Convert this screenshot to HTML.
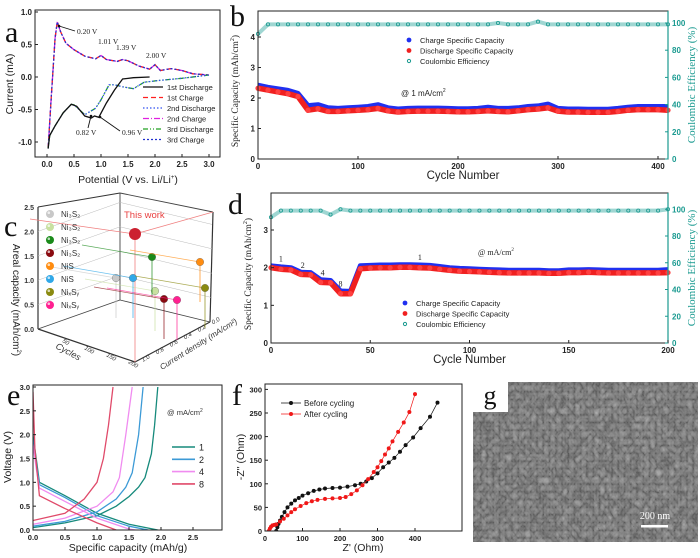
<!DOCTYPE html>
<html><head><meta charset="utf-8"><style>
html,body{margin:0;padding:0;background:#fff;width:700px;height:558px;overflow:hidden}
svg{display:block;font-family:"Liberation Sans",sans-serif}
.ser{font-family:"Liberation Serif",serif}
</style></head><body>
<svg id="fig" width="700" height="558" viewBox="0 0 700 558" xmlns="http://www.w3.org/2000/svg">
<defs>
<filter id="sem" x="0" y="0" width="100%" height="100%">
<feTurbulence type="turbulence" baseFrequency="0.16 0.13" numOctaves="2" seed="4"/>
<feColorMatrix type="matrix" values="0.4 0.4 0.4 0 0.1  0.4 0.4 0.4 0 0.1  0.4 0.4 0.4 0 0.1  0 0 0 0 1"/>
</filter>
</defs>
</svg>
<script>
// ---------- Panel a data ----------
const aChargeV=[0.02,0.08,0.15,0.19,0.25,0.35,0.5,0.7,0.9,1.0,1.1,1.3,1.4,1.5,1.7,1.9,2.0,2.1,2.3,2.5,2.7,3.0];
const aChargeI=[-1.1,-0.3,0.6,0.85,0.7,0.52,0.42,0.32,0.28,0.33,0.27,0.24,0.27,0.25,0.17,0.12,0.19,0.1,0.13,0.1,0.05,0.03];
const aDis1V=[1.9,1.6,1.4,1.25,1.1,0.96,0.88,0.82,0.7,0.55,0.45,0.3,0.15,0.05,0.02];
const aDis1I=[0.0,-0.01,-0.03,-0.2,-0.4,-0.62,-0.6,-0.63,-0.6,-0.45,-0.42,-0.55,-0.75,-0.9,-1.1];
const aDis3V=[3.0,2.5,2.1,1.8,1.6,1.4,1.25,1.15,1.0,0.9,0.7,0.5,0.45,0.3,0.15,0.05,0.02];
const aDis3I=[0.03,-0.02,-0.05,-0.08,-0.18,-0.15,-0.12,-0.12,-0.35,-0.48,-0.58,-0.43,-0.42,-0.55,-0.75,-0.9,-1.1];
const aTicksX=[0.0,0.5,1.0,1.5,2.0,2.5,3.0];
const aTicksY=[-1.0,-0.5,0.0,0.5,1.0];
// ---------- Panel b data (every 10 cycles, 0..410) ----------
const bCycles=[0,10,20,30,40,50,60,70,80,90,100,110,120,130,140,150,160,170,180,190,200,210,220,230,240,250,260,270,280,290,300,310,320,330,340,350,360,370,380,390,400,410];
const bCharge=[2.42,2.35,2.3,2.25,2.15,1.75,1.78,1.68,1.66,1.68,1.7,1.72,1.78,1.68,1.64,1.66,1.67,1.67,1.67,1.66,1.65,1.65,1.66,1.7,1.66,1.66,1.68,1.72,1.74,1.8,1.66,1.64,1.64,1.63,1.63,1.63,1.66,1.7,1.72,1.72,1.72,1.72];
const bDischarge=[2.32,2.26,2.2,2.14,2.05,1.6,1.65,1.56,1.56,1.58,1.6,1.62,1.66,1.58,1.54,1.56,1.57,1.57,1.57,1.56,1.55,1.55,1.56,1.58,1.56,1.55,1.58,1.62,1.64,1.68,1.57,1.54,1.54,1.53,1.53,1.53,1.56,1.6,1.62,1.62,1.62,1.6];
const bCE=[92,99,99,99,99,99,99,99,99,99,99,99,99,99,99,99,99,99,99,99,99,99,99,99,100,99,99,99,101,99,99,99,99,99,99,99,99,99,99,99,99,99];
const bTicksX=[0,100,200,300,400];
const bTicksY=[0,1,2,3,4];
const bTicksY2=[0,20,40,60,80,100];
// ---------- Panel d data (every 5 cycles, 0..200) ----------
const dCycles=[0,5,10,15,20,25,30,35,40,45,50,55,60,65,70,75,80,85,90,95,100,105,110,115,120,125,130,135,140,145,150,155,160,165,170,175,180,185,190,195,200];
const dCharge=[2.05,2.02,2.0,1.88,1.87,1.68,1.66,1.38,1.37,2.05,2.06,2.07,2.07,2.08,2.08,2.07,2.06,2.03,2.0,1.98,1.97,1.96,1.95,1.94,1.93,1.93,1.93,1.93,1.92,1.92,1.94,1.94,1.95,1.94,1.93,1.93,1.93,1.93,1.93,1.93,1.95];
const dDischarge=[2.0,1.96,1.94,1.82,1.81,1.61,1.6,1.31,1.31,1.97,1.99,2.0,2.0,2.01,2.01,2.0,1.99,1.96,1.93,1.91,1.9,1.89,1.88,1.87,1.86,1.86,1.86,1.86,1.85,1.85,1.87,1.87,1.88,1.87,1.86,1.86,1.86,1.86,1.86,1.86,1.87];
const dCE=[94,99,99,99,99,99,96,100,99,99,99,99,99,99,99,99,99,99,99,99,99,99,99,99,99,99,99,99,99,99,99,99,99,99,99,99,99,99,99,99,100];
const dTicksX=[0,50,100,150,200];
const dTicksY=[0,1,2,3];
const dTicksY2=[0,20,40,60,80,100];
const dRateLabels=["1","2","4","8","1"];
const dRateCycle=[5,16,26,35,75];
const dRateCap=[2.17,1.99,1.79,1.5,2.2];
// ---------- Panel e data ----------
const eRates=["1","2","4","8"];
const eColors=["#168a7c","#3c9ad6","#f08cf0","#e04a6a"];
const eChgQ=[[0,0.5,1.0,1.3,1.5,1.65,1.75,1.85,1.9,1.95],[0,0.5,1.0,1.3,1.45,1.55,1.65,1.72],[0,0.5,1.0,1.25,1.35,1.45,1.55],[0,0.5,0.8,1.0,1.1,1.18,1.25]];
const eChgV=[[0.05,0.15,0.3,0.5,0.7,0.9,1.1,1.6,2.2,3.0],[0.08,0.18,0.38,0.65,0.9,1.2,2.0,3.0],[0.12,0.25,0.5,0.8,1.1,2.0,3.0],[0.2,0.35,0.65,1.0,1.5,2.2,3.0]];
const eDisQ=[[0,0.05,0.1,0.5,1.0,1.5,1.95],[0,0.05,0.1,0.5,1.0,1.5,1.8],[0,0.05,0.1,0.5,1.0,1.5,1.6],[0,0.03,0.1,0.5,1.0,1.3]];
const eDisV=[[2.0,1.5,1.0,0.72,0.35,0.12,0.0],[1.9,1.4,0.95,0.68,0.3,0.08,0.0],[1.8,1.3,0.88,0.6,0.25,0.02,0.0],[2.9,1.7,0.72,0.45,0.15,0.0]];
const eTicksX=[0.0,0.5,1.0,1.5,2.0,2.5];
const eTicksY=[0.0,0.5,1.0,1.5,2.0,2.5,3.0];
// ---------- Panel f data ----------
const fBeforeX=[30,33,36,40,45,52,60,70,80,90,100,115,130,145,160,180,200,220,240,255,270,285,300,315,330,345,360,375,395,415,440,460];
const fBeforeY=[0,8,15,22,30,40,50,58,65,70,75,80,85,88,90,91,92,94,97,100,105,112,122,135,145,155,168,182,198,218,242,272];
const fAfterX=[10,13,16,20,25,30,40,50,60,70,80,95,110,125,140,160,180,200,215,230,245,260,275,290,300,310,320,330,340,355,370,385,400];
const fAfterY=[0,5,9,12,13,14,20,26,33,40,46,53,59,63,66,68,69,70,72,78,86,97,110,125,135,148,162,175,190,210,230,252,290];
const fTicksX=[0,100,200,300,400];
const fTicksY=[0,50,100,150,200,250,300];
// ---------- Panel c data ----------
const cLabels=["Ni\u2083S\u2082","Ni\u2083S\u2082","Ni\u2083S\u2082","Ni\u2083S\u2082","NiS","NiS","Ni\u2093S\u1d67","Ni\u2093S\u1d67"];
const cColors=["#c8c8c8","#c8e0a0","#1a8a1a","#8a0a10","#ff8c10","#30a8e8","#8a8a10","#ff2090"];
const cPX=[116,155,152,164,200,133,205,177];
const cPY=[278,291,257,299,262,278,288,300];

const NS="http://www.w3.org/2000/svg";
const svg=document.getElementById('fig');
function mk(tag,attrs,parent){const e=document.createElementNS(NS,tag);for(const k in attrs)e.setAttribute(k,attrs[k]);(parent||svg).appendChild(e);return e;}
function txt(x,y,s,attrs,parent){const t=mk('text',Object.assign({x:x,y:y},attrs||{}),parent);t.textContent=s;return t;}
function lin(d0,d1,r0,r1){return v=>r0+(v-d0)*(r1-r0)/(d1-d0);}
function pts(xs,ys,sx,sy){return xs.map((v,i)=>sx(v).toFixed(1)+','+sy(ys[i]).toFixed(1)).join(' ');}
function group(name){const g=mk('g',{});return g;}
function frame(g,x0,y0,x1,y1,col){const r=mk('rect',{x:x0,y:y0,width:x1-x0,height:y1-y0,fill:'none',stroke:col||'#222','stroke-width':1},g);return r;}
function xticks(g,ticks,sx,yb,fmt,fs){const gg=mk('g',{},g);ticks.forEach(t=>{mk('line',{x1:sx(t),x2:sx(t),y1:yb,y2:yb-3,stroke:'#222'},gg);const l=txt(sx(t),yb+10,fmt(t),{'font-size':fs||8,'font-weight':'bold','text-anchor':'middle',fill:'#222'},gg);});}
function yticks(g,ticks,sy,xl,fmt,fs,right,col){const gg=mk('g',{},g);ticks.forEach(t=>{mk('line',{x1:xl,x2:right?xl-3:xl+3,y1:sy(t),y2:sy(t),stroke:col||'#222'},gg);const l=txt(right?xl+4:xl-3,sy(t)+3,fmt(t),{'font-size':fs||8,'font-weight':'bold','text-anchor':right?'start':'end',fill:col||'#222'},gg);});}
function letter(x,y,s){const t=txt(x,y,s,{'font-size':30,'class':'ser',fill:'#111'});}

// ================= Panel a =================
(function(){
const g=group('panel-a-cv');
const sx=lin(0,3,47,209), sy=lin(-1,1,142,12);
frame(g,35,10,220,157);
xticks(g,aTicksX,sx,157,v=>v.toFixed(1));
yticks(g,aTicksY,sy,35,v=>v.toFixed(1));
let t=txt(128,183,'Potential (V vs. Li/Li',{'font-size':10.5,'text-anchor':'middle',fill:'#222'},g);
const sup=mk('tspan',{'font-size':6,dy:-4},t);sup.textContent='+';const cl=mk('tspan',{dy:4},t);cl.textContent=')';

t=txt(0,0,'Current (mA)',{'font-size':10.5,'text-anchor':'middle',fill:'#222',transform:'translate(13,84) rotate(-90)'},g);

const series=[
 {n:'2nd-charge-line',x:aChargeV,y:aChargeI,c:'#e020e0',d:'6,2,1,2',w:1.3},
 {n:'1st-charge-line',x:aChargeV,y:aChargeI,c:'#ff2020',d:'5,3',w:1.3},
 {n:'3rd-charge-line',x:aChargeV,y:aChargeI,c:'#2030d0',d:'2,2',w:1.3},
 {n:'3rd-discharge-line',x:aDis3V,y:aDis3I,c:'#20a020',d:'5,2,1,2,1,2',w:1.3},
 {n:'2nd-discharge-line',x:aDis3V,y:aDis3I,c:'#3050f0',d:'1.5,2',w:1.2},
 {n:'1st-discharge-line',x:aDis1V,y:aDis1I,c:'#111',d:'',w:1.3}];
series.forEach(s=>{const p=mk('polyline',{points:pts(s.x,s.y,sx,sy),fill:'none',stroke:s.c,'stroke-width':s.w,'stroke-dasharray':s.d},g);});
const ann=[['0.20 V',77,34],['1.01 V',98,44],['1.39 V',116,50],['2.00 V',146,58],['0.82 V',76,135],['0.96 V',122,135]];
ann.forEach(a=>{const l=txt(a[1],a[2],a[0],{'font-size':7.5,'class':'ser',fill:'#222'},g);});
[[75,31,59,26],[88,128,91,116],[120,131,100,117]].forEach(a=>{const l=mk('line',{x1:a[0],y1:a[1],x2:a[2],y2:a[3],stroke:'#111','stroke-width':0.9},g);mk('circle',{cx:a[2],cy:a[3],r:1.3,fill:'#111'},g);});
const leg=[['1st Discharge','#111',''],['1st Charge','#ff2020','5,3'],['2nd Discharge','#3050f0','1.5,2'],['2nd Charge','#e020e0','6,2,1,2'],['3rd Discharge','#20a020','5,2,1,2,1,2'],['3rd Charge','#2030d0','2,2']];
const lg=mk('g',{},g);
leg.forEach((l,i)=>{const y=90+i*10.5;mk('line',{x1:143,x2:163,y1:y-3,y2:y-3,stroke:l[1],'stroke-width':1.3,'stroke-dasharray':l[2]},lg);const e=txt(167,y,l[0],{'font-size':7.5,fill:'#222'},lg);});
})();
letter(5,42,'a');

// ================= Panel b / d helpers =================
function cyclePanel(name,x0,y0,x1,y1,sx,sy,sy2,cyc,chg,dis,ce,tx,ty,ty2,legY,xlab){
 const g=group(name);
 const ceL=mk('polyline',{points:pts(cyc,ce,sx,sy2),fill:'none',stroke:'#9fd6d2','stroke-width':4},g);
 
 cyc.forEach((c,i)=>{const m=mk('circle',{cx:sx(c),cy:sy2(ce[i]),r:1.6,fill:'none',stroke:'#1a9a90','stroke-width':0.8},g);});
 const cL=mk('polyline',{points:pts(cyc,chg,sx,sy),fill:'none',stroke:'#2030f0','stroke-width':5,'stroke-linejoin':'round'},g);
 
 const dL=mk('polyline',{points:pts(cyc,dis,sx,sy),fill:'none',stroke:'#f02020','stroke-width':5.5,'stroke-linejoin':'round'},g);
 
 cyc.forEach((c,i)=>{const m=mk('circle',{cx:sx(c),cy:sy(dis[i]),r:2.6,fill:'#ff4040'},g);});
 frame(g,x0,y0,x1,y1);
 mk('line',{x1:x1,x2:x1,y1:y0,y2:y1,stroke:'#1a9a90','stroke-width':1.2},g);
 xticks(g,tx,sx,y1,v=>String(v));
 yticks(g,ty,sy,x0,v=>String(v));
 yticks(g,ty2,sy2,x1,v=>String(v),8,true,'#1a9a90');
 let t=txt((x0+x1)/2,y1+20,xlab,{'font-size':11.5,'text-anchor':'middle',fill:'#222'},g);
 
 t=txt(0,0,'Specific Capacity (mAh/cm',{'font-size':9.5,'class':'ser','text-anchor':'middle',fill:'#222',transform:'translate('+(x0-20)+','+((y0+y1)/2+6)+') rotate(-90)'},g);
 const s2=mk('tspan',{'font-size':6,dy:-4},t);s2.textContent='2';const s3=mk('tspan',{dy:4},t);s3.textContent=')';
 
 t=txt(0,0,'Coulombic Efficiency (%)',{'font-size':11,'class':'ser','text-anchor':'middle',fill:'#1a9a90',transform:'translate('+(x1+27)+','+((y0+y1)/2)+') rotate(-90)'},g);
 
 const lg=mk('g',{},g);
 const lx=legY[0];
 [['Charge Specific Capacity','#2030f0'],['Discharge Specific Capacity','#f02020'],['Coulombic Efficiency','#1a9a90']].forEach((l,i)=>{const y=legY[1]+i*10.5;
  if(i<2)mk('circle',{cx:lx,cy:y-3,r:2.4,fill:l[1]},lg);else mk('circle',{cx:lx,cy:y-3,r:1.6,fill:'none',stroke:l[1]},lg);
  const e=txt(lx+11,y,l[0],{'font-size':7.5,fill:'#222'},lg);});
 return g;
}
// ================= Panel b =================
(function(){
 const sx=lin(0,400,258,658),sy=lin(0,4,159,37),sy2=lin(0,100,159,23);
 const g=cyclePanel('panel-b-cycling',258,11,668,159,sx,sy,sy2,bCycles,bCharge,bDischarge,bCE,bTicksX,bTicksY,bTicksY2,[409,43],'Cycle Number');
 const t=txt(401,96,'@ 1 mA/cm',{'font-size':8,fill:'#222'},g);const s=mk('tspan',{'font-size':5,dy:-4},t);s.textContent='2';
 
})();
letter(230,26,'b');
// ================= Panel d =================
(function(){
 const sx=lin(0,200,271,668),sy=lin(0,3,343,230),sy2=lin(0,80,343,236);
 const g=cyclePanel('panel-d-rate',271,193,668,343,sx,sy,sy2,dCycles,dCharge,dDischarge,dCE,dTicksX,dTicksY,dTicksY2,[405,306],'Cycle Number');
 const t=txt(478,255,'@ mA/cm',{'font-size':8,'class':'ser',fill:'#222'},g);const s=mk('tspan',{'font-size':5,dy:-4},t);s.textContent='2';
 
 dRateLabels.forEach((l,i)=>{const e=txt(sx(dRateCycle[i]),sy(dRateCap[i]),l,{'font-size':8,'class':'ser','text-anchor':'middle',fill:'#222'},g);});
})();
letter(228,214,'d');

// ================= Panel c (3D scatter) =================
(function(){
 const g=group('panel-c-3d-comparison');
 const gr='#bbb';
 [[38,207,38,329],[38,329,135,362],[135,362,210,322],[210,322,213,212],[38,207,120,193],[120,193,213,212],[120,193,120,300],[120,300,38,329],[120,300,210,322]].forEach((l,i)=>{const e=mk('line',{x1:l[0],y1:l[1],x2:l[2],y2:l[3],stroke:i<5?'#333':'#444','stroke-width':i<4?1.2:0.9},g);});
 for(let k=1;k<5;k++){const y=329-k*24.4;mk('line',{x1:38,y1:y,x2:120,y2:y-29,stroke:gr,'stroke-width':0.5},g);mk('line',{x1:120,y1:y-29,x2:212,y2:y-7,stroke:gr,'stroke-width':0.5},g);}
 ['0.0','0.5','1.0','1.5','2.0','2.5'].forEach((s,k)=>{const e=txt(34,332-k*24.4,s,{'font-size':7,'font-weight':'bold','text-anchor':'end',fill:'#333'},g);});
 let t=txt(0,0,'Areal capacity (mAh/cm',{'font-size':10,'text-anchor':'middle',fill:'#222',transform:'translate(13,300) rotate(90)'},g);
 const s=mk('tspan',{'font-size':6,dy:-4},t);s.textContent='2';const s2=mk('tspan',{dy:4},t);s2.textContent=')';
 
 ['50','100','150','200'].forEach((v,k)=>{const e=txt(62+k*22,342+k*7,v,{'font-size':6,'font-style':'italic',fill:'#333',transform:'rotate(30 '+(62+k*22)+' '+(342+k*7)+')'},g);});
 t=txt(0,0,'Cycles',{'font-size':9,'font-style':'italic',fill:'#333',transform:'translate(55,348) rotate(28)'},g);
 ['1.0','0.8','0.6','0.4','0.2','0.0'].forEach((v,k)=>{const e=txt(143+k*14,362-k*7.5,v,{'font-size':6,'font-style':'italic',fill:'#333',transform:'rotate(-30 '+(143+k*14)+' '+(362-k*7.5)+')'},g);});
 t=txt(0,0,'Current density (mA/cm\u00b2)',{'font-size':8,'font-style':'italic',fill:'#333',transform:'translate(162,370) rotate(-32)'},g);
 mk('line',{x1:135,y1:234,x2:135,y2:362,stroke:'#f08080','stroke-width':0.8},g);
 mk('line',{x1:30,y1:219,x2:135,y2:234,stroke:'#f08080','stroke-width':0.8},g);
 mk('line',{x1:135,y1:234,x2:213,y2:212,stroke:'#f08080','stroke-width':0.8},g);
 const tw=txt(124,218,'This work',{'font-size':9.5,fill:'#e84040'},g);
 const sp=mk('circle',{cx:135,cy:234,r:6,fill:'#cc2030'},g);
 cPX.forEach((x,i)=>{mk('line',{x1:x,y1:cPY[i],x2:x,y2:cPY[i]+40,stroke:cColors[i],'stroke-width':0.7},g);mk('line',{x1:x,y1:cPY[i],x2:x-70,y2:cPY[i]-12,stroke:cColors[i],'stroke-width':0.7,opacity:0.7},g);
  const p=mk('circle',{cx:x,cy:cPY[i],r:3.8,fill:cColors[i],stroke:'#555','stroke-width':0.3},g);});
 const lg=mk('g',{},g);
 cLabels.forEach((l,i)=>{const y=214+i*13;mk('circle',{cx:50,cy:y,r:4,fill:cColors[i]},lg);mk('circle',{cx:48.8,cy:y-1.3,r:1.3,fill:'#fff',opacity:0.7},lg);const e=txt(61,y+3,l,{'font-size':8,fill:'#333'},lg);});
})();
letter(4,236,'c');

// ================= Panel e =================
(function(){
 const g=group('panel-e-voltage-profiles');
 const sx=lin(0,2.5,33,193),sy=lin(0,3,530,387);
 const cp=mk('clipPath',{id:'clipE'},g);mk('rect',{x:33,y:385,width:189,height:145},cp);
 const cg=mk('g',{'clip-path':'url(#clipE)'},g);
 eRates.forEach((r,i)=>{let p=mk('polyline',{points:pts(eChgQ[i],eChgV[i],sx,sy),fill:'none',stroke:eColors[i],'stroke-width':1.3},cg);
  p=mk('polyline',{points:pts(eDisQ[i],eDisV[i],sx,sy),fill:'none',stroke:eColors[i],'stroke-width':1.3},cg);});
 frame(g,33,385,222,530);
 xticks(g,eTicksX,sx,530,v=>v.toFixed(1),7.5);
 yticks(g,eTicksY,sy,33,v=>v.toFixed(1),7.5);
 let t=txt(128,551,'Specific capacity (mAh/g)',{'font-size':10.5,'text-anchor':'middle',fill:'#222'},g);
 t=txt(0,0,'Voltage (V)',{'font-size':10.5,'text-anchor':'middle',fill:'#222',transform:'translate(11,457) rotate(-90)'},g);
 t=txt(167,415,'@ mA/cm',{'font-size':7.5,fill:'#333'},g);const s=mk('tspan',{'font-size':5,dy:-3},t);s.textContent='2';
 const lg=mk('g',{},g);
 eRates.forEach((r,i)=>{const y=447+i*12.3;mk('line',{x1:172,x2:195,y1:y,y2:y,stroke:eColors[i],'stroke-width':1.6},lg);const e=txt(199,y+3.5,r,{'font-size':9,fill:'#222'},lg);});
})();
letter(7,405,'e');

// ================= Panel f =================
(function(){
 const g=group('panel-f-nyquist');
 const sx=lin(0,400,265,415),sy=lin(0,250,531,413);
 const cp=mk('clipPath',{id:'clipF'},g);mk('rect',{x:265,y:384,width:197,height:147},cp);
 const cg=mk('g',{'clip-path':'url(#clipF)'},g);
 [[fBeforeX,fBeforeY,'#111','before-cycling'],[fAfterX,fAfterY,'#f01818','after-cycling']].forEach(s=>{
  const p=mk('polyline',{points:pts(s[0],s[1],sx,sy),fill:'none',stroke:s[2],'stroke-width':0.7},cg);
  s[0].forEach((x,i)=>{const m=mk('circle',{cx:sx(x),cy:sy(s[1][i]),r:2,fill:s[2]},cg);});});
 frame(g,265,384,462,531);
 xticks(g,fTicksX,sx,531,v=>String(v),7.5);
 yticks(g,fTicksY,sy,265,v=>String(v),7.5);
 let t=txt(363,551,"Z' (Ohm)",{'font-size':10.5,'text-anchor':'middle',fill:'#222'},g);
 t=txt(0,0,"-Z'' (Ohm)",{'font-size':10.5,'text-anchor':'middle',fill:'#222',transform:'translate(244,457) rotate(-90)'},g);
 const lg=mk('g',{},g);
 [['Before cycling','#111'],['After cycling','#f01818']].forEach((l,i)=>{const y=403+i*11;mk('line',{x1:281,x2:301,y1:y,y2:y,stroke:l[1],'stroke-width':0.8},lg);mk('circle',{cx:291,cy:y,r:2,fill:l[1]},lg);const e=txt(304,y+3,l[0],{'font-size':8,fill:'#222'},lg);});
})();
letter(232,405,'f');

// ================= Panel g (SEM) =================
(function(){
 const g=group('panel-g-sem-image');
 mk('rect',{x:473,y:382,width:225,height:160,fill:'#3c3c3c'},g);
 const r=mk('rect',{x:473,y:382,width:225,height:160,filter:'url(#sem)',opacity:0.6},g);
 mk('rect',{x:473,y:382,width:35,height:30,fill:'#fff'},g);
 const l=txt(490,404,'g',{'font-size':26,'class':'ser','text-anchor':'middle',fill:'#111'},g);
 const sb=mk('rect',{x:641,y:525,width:27,height:2.5,fill:'#fff'},g);
 const st=txt(655,519,'200 nm',{'font-size':10,'class':'ser','text-anchor':'middle',fill:'#fff'},g);
})();
</script>
</body></html>
